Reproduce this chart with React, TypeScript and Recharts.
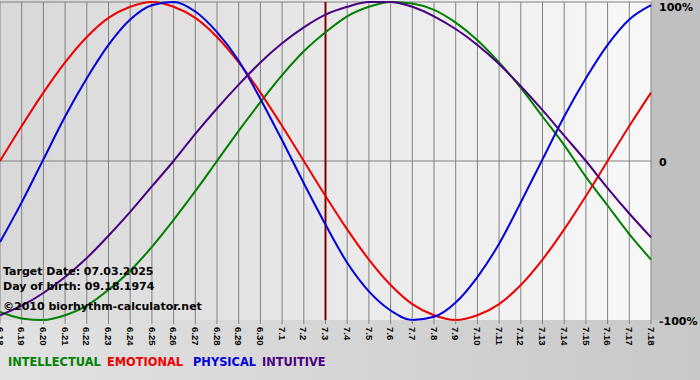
import React from "react";
import { LineChart, Line, XAxis, YAxis, CartesianGrid, ReferenceLine } from "recharts";

// days on the x axis (6.18 .. 7.18)
const days = [
  "6.18", "6.19", "6.20", "6.21", "6.22", "6.23", "6.24", "6.25", "6.26", "6.27", "6.28",
  "6.29", "6.30", "7.1", "7.2", "7.3", "7.4", "7.5", "7.6", "7.7", "7.8", "7.9", "7.10",
  "7.11", "7.12", "7.13", "7.14", "7.15", "7.16", "7.17", "7.18",
];

// values in percent
const intellectual = [
  -95, -99, -100, -97, -91, -81, -69, -54, -37, -19, 0, 19, 37, 54, 69, 81,
  91, 97, 100, 99, 95, 87, 76, 62, 46, 28, 10, -10, -28, -46, -62,
];
const emotional = [
  0, 22, 43, 62, 78, 90, 97, 100, 97, 90, 78, 62, 43, 22, 0, -22,
  -43, -62, -78, -90, -97, -100, -97, -90, -78, -62, -43, -22, 0, 22, 43,
];
const physical = [
  -51, -26, 1, 28, 52, 73, 89, 98, 100, 94, 81, 63, 39, 13, -14, -40,
  -64, -82, -94, -100, -98, -89, -73, -52, -26, 1, 28, 52, 73, 89, 98,
];
const intuitive = [
  -97, -91, -83, -73, -61, -47, -32, -16, 0, 17, 33, 48, 62, 74, 84, 92,
  97, 100, 100, 97, 91, 83, 73, 61, 47, 32, 16, 0, -17, -33, -48,
];

const yTicks = [100, 0, -100];
const targetDay = "7.3";

const series = [
  { key: "intellectual", label: "INTELLECTUAL", color: "#008000" },
  { key: "emotional", label: "EMOTIONAL", color: "#ee0000" },
  { key: "physical", label: "PHYSICAL", color: "#0000dd" },
  { key: "intuitive", label: "INTUITIVE", color: "#4b0082" },
];

const data = days.map((d, i) => ({
  day: d,
  intellectual: intellectual[i],
  emotional: emotional[i],
  physical: physical[i],
  intuitive: intuitive[i],
}));

const XTick = (props: any) => {
  const { x, y, payload } = props;
  return (
    <g transform={`translate(${x},${y + 1})`}>
      <text
        transform="rotate(90)"
        x={0}
        y={0}
        dy="0.35em"
        textAnchor="start"
        fill="#000"
        fontSize={9.5}
        fontWeight="bold"
        fontFamily="Liberation Sans, Arial, sans-serif"
      >
        {payload.value}
      </text>
    </g>
  );
};

const YTick = (props: any) => {
  const { x, y, payload } = props;
  const v = payload.value;
  const shift = v === 100 ? 5 : 1;
  return (
    <text
      x={x}
      y={y + shift}
      dy="0.35em"
      textAnchor="start"
      fill="#000"
      fontSize={11}
      fontWeight="bold"
      fontFamily="DejaVu Sans, Verdana, sans-serif"
    >
      {v === 0 ? "0" : v + "%"}
    </text>
  );
};

export default function App() {
  return (
    <div style={{ position: "absolute", left: 0, top: 0, width: 700, height: 380, overflow: "hidden" }}>
      {/* backgrounds */}
      <div style={{ position: "absolute", left: 0, top: 0, width: 700, height: 380, background: "linear-gradient(to right, #e2e2e2, #c8c8c8)" }} />
      <div style={{ position: "absolute", left: 651, top: 0, width: 49, height: 320, background: "#c0c0c0" }} />
      <div style={{ position: "absolute", left: 0, top: 0, width: 651, height: 320, background: "linear-gradient(to right, #d8d8d8, #f8f8f8)" }} />

      <div style={{ position: "absolute", left: 0, top: 0 }}>
        <LineChart width={700} height={380} data={data} margin={{ top: 2, right: 0, left: 0, bottom: 0 }}>
          <CartesianGrid vertical horizontal={false} stroke="#808080" strokeDasharray="" />
          <XAxis
            dataKey="day"
            interval={0}
            height={60}
            axisLine={false}
            tickSize={4}
            tickLine={{ stroke: "#808080" }}
            tick={<XTick />}
          />
          <YAxis
            orientation="right"
            domain={[-100, 100]}
            ticks={yTicks}
            interval={0}
            width={49}
            axisLine={false}
            tickLine={false}
            tickSize={6}
            tick={<YTick />}
          />
          <ReferenceLine y={100} stroke="#808080" />
          <ReferenceLine y={0} stroke="#808080" />
          <ReferenceLine x={targetDay} stroke="#800000" strokeWidth={2} />
          {series.map((s) => (
            <Line
              key={s.key}
              type="monotone"
              dataKey={s.key}
              stroke={s.color}
              strokeWidth={2}
              dot={false}
              isAnimationActive={false}
            />
          ))}
        </LineChart>
      </div>

      {/* info text and legend */}
      <svg width={700} height={380} style={{ position: "absolute", left: 0, top: 0, pointerEvents: "none" }}>
        <g fontFamily="DejaVu Sans, Verdana, sans-serif" fontWeight="bold" fontSize={11} fill="#000">
          <text x={3} y={275}>Target Date: 07.03.2025</text>
          <text x={3} y={290}>Day of birth: 09.18.1974</text>
          <text x={3} y={310}>©2010 biorhythm-calculator.net</text>
        </g>
        <g fontFamily="DejaVu Sans, Verdana, sans-serif" fontWeight="bold" fontSize={11.4}>
          <text x={8} y={366} fill={series[0].color}>{series[0].label}</text>
          <text x={107} y={366} fill={series[1].color}>{series[1].label}</text>
          <text x={193} y={366} fill={series[2].color}>{series[2].label}</text>
          <text x={262} y={366} fill={series[3].color}>{series[3].label}</text>
        </g>
      </svg>
    </div>
  );
}
